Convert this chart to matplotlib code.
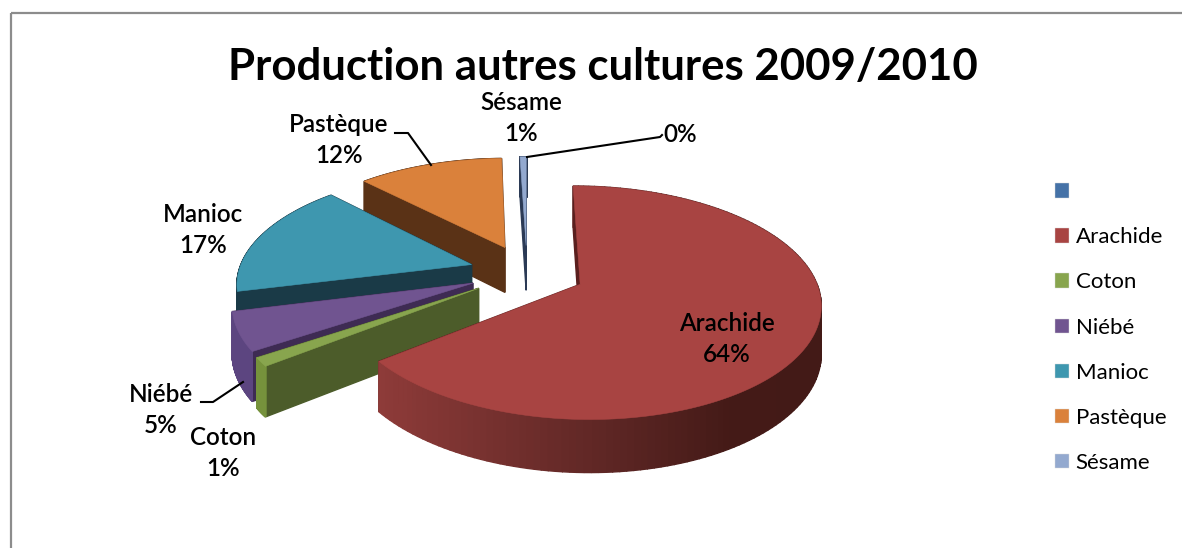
import numpy as np
import matplotlib
matplotlib.use('Agg')
import matplotlib.pyplot as plt
from matplotlib.colors import to_rgb
from matplotlib.patches import Polygon, Patch, Rectangle

plt.rcParams['font.family'] = ['Lato', 'DejaVu Sans']

title = 'Production autres cultures 2009/2010'
categories = ['', 'Arachide', 'Coton', 'Niébé', 'Manioc', 'Pastèque', 'Sésame']
values = [0, 64.4, 1.2, 5.4, 16.5, 11.8, 0.5]
percents = ['0%', '64%', '1%', '5%', '17%', '12%', '1%']
colors = ['#4572A7', '#A84442', '#88A54E', '#705490', '#3E97AF', '#DA813B', '#93A9CF']
cut_colors = ['#22395A', '#5A1F1E', '#4C5C2A', '#3E2B53', '#1A3A47', '#5A3216', '#2B3A55']
side_colors = ['#22395A', '#8E3B39', '#76923C', '#5C4580', '#1A3A47', '#5A3216', '#2B3A55']

# label centres, pixel position in the picture
label_pos = [(680, 134), (727, 339), (223, 453), (161, 410), (203, 230), (339, 140), (521, 118)]

# projection of the tilted pie to pixels
CX, CY = 527, 272
R = 233
RY = 110
PX, PY = 0.15, 0.155
DEPTH, PZ = 46, 0.12
EXPLODE = 0.25


def project(u, v, z=0.0):
    x = CX + R * u / (1 + PX * v)
    y = CY - RY * v / (1 + PY * v) + z * DEPTH / (1 + PZ * v)
    return np.column_stack([x, y])


def arachide_side(x):
    stops = [380, 600, 730, 823]
    rgb = [to_rgb(c) for c in ['#8E3B39', '#5F2725', '#441A17', '#431A17']]
    return tuple(np.interp(x, stops, [c[i] for c in rgb]) for i in range(3))


fig = plt.figure(figsize=(11.82, 5.48), dpi=100, facecolor='white')
ax = fig.add_axes([0, 0, 1, 1])
wedges, _ = ax.pie(values, explode=[EXPLODE] * len(values), startangle=90,
                   counterclock=False, radius=1, colors=colors)
ax.set_aspect('auto')
ax.set_xlim(0, 1182)
ax.set_ylim(548, 0)
ax.axis('off')

ax.add_patch(Rectangle((11, 13), 1300, 700, fill=False, ec='#8C8C8C', lw=1.6))

# back to front: Sesame first, Arachide last
for i in [6, 5, 4, 3, 2, 1]:
    w = wedges[i]
    w.set_visible(False)
    cu, cv = w.center
    th = np.radians(np.linspace(w.theta1, w.theta2, 160))
    u = np.r_[cu, cu + w.r * np.cos(th)]
    v = np.r_[cv, cv + w.r * np.sin(th)]
    n = len(u)
    quads = []
    for a in range(n):
        b = (a + 1) % n
        is_cut = a == 0 or b == 0
        quads.append(((v[a] + v[b]) / 2, a, b, is_cut))
    quads.sort(key=lambda q: -q[0])
    for _, a, b, is_cut in quads:
        top = project(u[[a, b]], v[[a, b]])
        bottom = project(u[[b, a]], v[[b, a]], z=1.0)
        pts = np.vstack([top, bottom])
        if is_cut:
            c = cut_colors[i]
        elif categories[i] == 'Arachide':
            c = arachide_side(pts[:, 0].mean())
        else:
            c = side_colors[i]
        ax.add_patch(Polygon(pts, closed=True, fc=c, ec=c, lw=1.0))
    ax.add_patch(Polygon(project(u, v), closed=True, fc=colors[i], ec=colors[i], lw=0.4))

# leader lines
ax.plot([395, 408, 431], [133, 133, 165], color='black', lw=1.5)
ax.plot([201, 213, 243], [402, 402, 382], color='black', lw=1.5)
ax.plot([527, 660, 662], [157, 137, 135], color='black', lw=1.5)

for i, (x, y) in enumerate(label_pos):
    txt = percents[i] if categories[i] == '' else categories[i] + '\n' + percents[i]
    ax.text(x, y, txt, ha='center', va='center', fontsize=17.5, fontweight='semibold',
            color='black', linespacing=1.45, zorder=5)

ax.text(603, 67, title, ha='center', va='center', fontsize=31.5, fontweight='bold', color='black')

handles = [Patch(fc=c, ec='#DDDDDD', lw=0.3) for c in colors]
ax.legend(handles, categories, loc='upper left', bbox_to_anchor=(1033, 160),
          bbox_transform=ax.transData, frameon=False, fontsize=16,
          handlelength=0.62, handleheight=0.62, handletextpad=0.3,
          labelspacing=1.13, borderpad=0.5)

fig.savefig('out.png', dpi=100)
